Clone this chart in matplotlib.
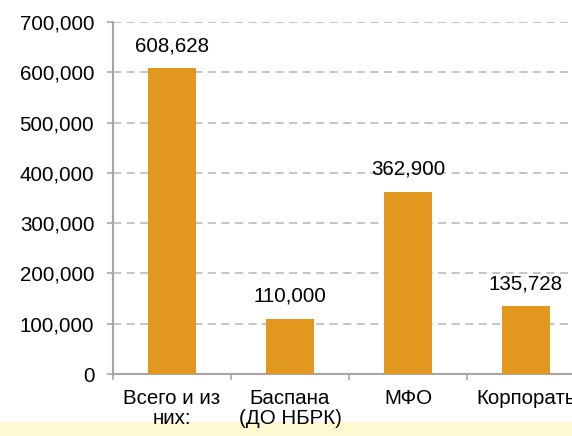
import matplotlib
matplotlib.use("Agg")
import matplotlib.pyplot as plt
from matplotlib.patches import Rectangle
from matplotlib.ticker import FuncFormatter, FixedLocator

plt.rcParams['font.family'] = ['Liberation Sans', 'DejaVu Sans']

categories = ["Всего и из\nних:", "Баспана\n(ДО НБРК)", "МФО", "Корпорать"]
values = [608628, 110000, 362900, 135728]
yticks = [0, 100000, 200000, 300000, 400000, 500000, 600000, 700000]

W, H = 572, 436
fig = plt.figure(figsize=(W / 100, H / 100), dpi=100)
fig.patch.set_facecolor("white")

# light yellow band at the bottom
fig.patches.append(Rectangle((0, 0), 1, 14 / H, transform=fig.transFigure,
                             facecolor="#FFF9D2", edgecolor="none", zorder=-1))

ax = fig.add_axes([113 / W, (H - 374) / H, (585 - 113) / W, (374 - 22) / H])
ax.set_facecolor("none")

FS = 14.8

x = list(range(len(categories)))
ax.bar(x, values, width=0.41, color="#E2981E", zorder=3)

for xi, v in zip(x, values):
    ax.annotate(f"{v:,}", (xi, v), xytext=(0, 16), textcoords="offset points",
                ha="center", va="center", fontsize=FS, color="black", zorder=4)

ax.set_xlim(-0.5, 3.5)
ax.set_ylim(0, 700000)
ax.set_yticks(yticks)
ax.yaxis.set_major_formatter(FuncFormatter(lambda v, p: f"{int(v):,}"))
ax.set_xticks(x)
ax.set_xticklabels(categories, linespacing=1.05)
ax.xaxis.set_minor_locator(FixedLocator([-0.5, 0.5, 1.5, 2.5, 3.5]))

ax.tick_params(axis="y", direction="out", length=4.5, width=1.2, color="#A6A6A6",
               labelsize=FS, pad=9)
ax.tick_params(axis="x", which="major", length=0, labelsize=FS, pad=11)
ax.tick_params(axis="x", which="minor", direction="out", length=4.5, width=1.2,
               color="#A6A6A6")

for s in ["top", "right"]:
    ax.spines[s].set_visible(False)
for s in ["left", "bottom"]:
    ax.spines[s].set_color("#A6A6A6")
    ax.spines[s].set_linewidth(1.5)

ax.yaxis.grid(True, color="#C0C0C0", linewidth=1.3, linestyle=(0, (4.5, 3)), zorder=0)
ax.set_axisbelow(True)

fig.savefig("out.png", dpi=100)
